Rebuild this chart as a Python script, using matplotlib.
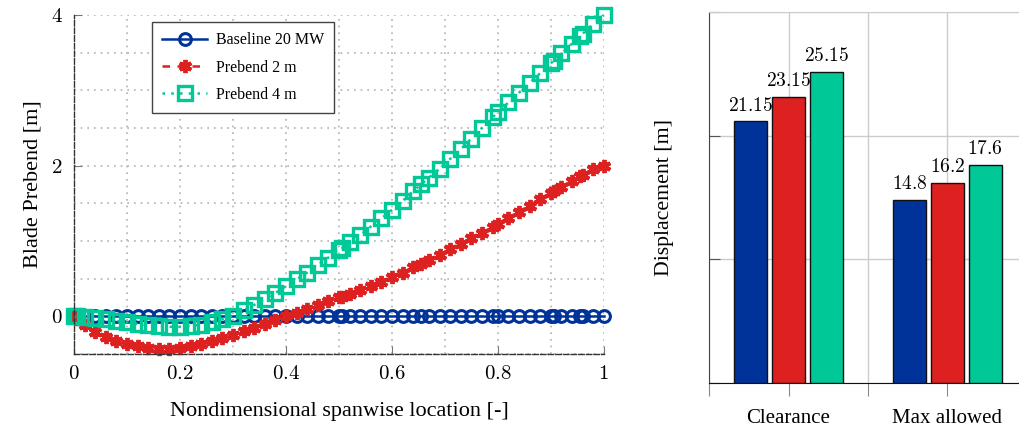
import matplotlib.pyplot as plt
from matplotlib.ticker import FuncFormatter, MultipleLocator

plt.rcParams["font.family"] = ["Liberation Serif", "DejaVu Serif"]
plt.rcParams["mathtext.fontset"] = "cm"

BLUE = "#003399"
RED = "#dd2020"
GREEN = "#00c896"

# blade stations (nondimensional span) and prebend per design [m]
span = [0.0, 0.005, 0.02, 0.04, 0.06, 0.08, 0.10, 0.12, 0.14, 0.16, 0.18,
        0.20, 0.22, 0.24, 0.26, 0.28, 0.30, 0.32, 0.34, 0.36, 0.38, 0.40,
        0.42, 0.44, 0.46, 0.48, 0.50, 0.505, 0.52, 0.54, 0.56, 0.58, 0.60,
        0.62, 0.64, 0.655, 0.67, 0.69, 0.71, 0.73, 0.75, 0.77, 0.79, 0.80,
        0.82, 0.84, 0.86, 0.88, 0.90, 0.905, 0.92, 0.94, 0.955, 0.96, 0.98,
        1.0]
prebend_base = [0.0] * len(span)
prebend_2m = [0.0, -0.03, -0.12, -0.21, -0.28, -0.33, -0.37, -0.40, -0.42,
              -0.43, -0.43, -0.42, -0.40, -0.37, -0.33, -0.29, -0.25, -0.20,
              -0.15, -0.10, -0.05, 0.00, 0.05, 0.10, 0.15, 0.20, 0.25, 0.26,
              0.30, 0.35, 0.40, 0.46, 0.52, 0.58, 0.65, 0.70, 0.75, 0.82,
              0.89, 0.96, 1.04, 1.11, 1.19, 1.23, 1.31, 1.39, 1.47, 1.56,
              1.64, 1.66, 1.72, 1.80, 1.86, 1.88, 1.95, 2.0]
prebend_4m = [0.0, 0.0, -0.01, -0.02, -0.04, -0.06, -0.08, -0.10, -0.12,
              -0.13, -0.14, -0.14, -0.13, -0.11, -0.08, -0.04, 0.01, 0.08,
              0.15, 0.23, 0.31, 0.40, 0.49, 0.58, 0.68, 0.78, 0.88, 0.90,
              0.98, 1.08, 1.19, 1.30, 1.41, 1.53, 1.66, 1.75, 1.84, 1.96,
              2.09, 2.22, 2.36, 2.50, 2.64, 2.71, 2.84, 2.97, 3.10, 3.23,
              3.36, 3.39, 3.49, 3.62, 3.72, 3.75, 3.88, 4.0]

# tip displacement bars
categories = ["Clearance", "Max allowed"]
disp_base = [21.15, 14.8]
disp_2m = [23.15, 16.2]
disp_4m = [25.15, 17.6]
bar_labels = [["21.15", "14.8"], ["23.15", "16.2"], ["25.15", "17.6"]]

fig = plt.figure(figsize=(10.19, 4.28), dpi=100)

# ---- prebend curves ----
ax = fig.add_axes([0.0726, 0.173, 0.520, 0.792])
ax.plot(span, prebend_base, color=BLUE, lw=1.8, ls="-", marker="o",
        ms=8.5, mfc="none", mec=BLUE, mew=2.2, clip_on=False,
        label="Baseline 20 MW")
ax.plot(span, prebend_2m, color=RED, lw=1.8, ls=(0, (3, 3)),
        marker=(6, 2, 0), ms=9.5, mec=RED, mew=2.8, clip_on=False,
        label="Prebend 2 m")
ax.plot(span, prebend_4m, color=GREEN, lw=1.8, ls=(0, (1, 2.5)),
        marker="s", ms=10.5, mfc="none", mec=GREEN, mew=2.4, clip_on=False,
        label="Prebend 4 m")

ax.set_xlim(0, 1)
ax.set_ylim(-0.5, 4)
ax.set_xticks([0, 0.2, 0.4, 0.6, 0.8, 1.0])
ax.set_yticks([0, 2, 4])
ax.xaxis.set_minor_locator(MultipleLocator(0.1))
ax.yaxis.set_minor_locator(MultipleLocator(0.5))
fmt = FuncFormatter(lambda v, pos: f"${v:g}$")
ax.xaxis.set_major_formatter(fmt)
ax.yaxis.set_major_formatter(fmt)
ax.tick_params(which="major", direction="in", length=6, color="#777777",
               labelsize=15, pad=8)
ax.tick_params(which="minor", length=0)
ax.grid(which="both", color="#b0b0b0", ls=(0, (1, 3)), lw=1.2)
ax.set_axisbelow(True)
for side in ["top", "right"]:
    ax.spines[side].set_visible(False)
for side in ["left", "bottom"]:
    ax.spines[side].set_linestyle((0, (4, 1.5)))
    ax.spines[side].set_color("#333333")
    ax.spines[side].set_linewidth(1.0)
ax.set_xlabel("Nondimensional spanwise location [-]", fontsize=16, labelpad=13)
ax.set_ylabel("Blade Prebend [m]", fontsize=16, labelpad=6)

leg = ax.legend(loc="upper left", bbox_to_anchor=(0.147, 0.979),
                borderaxespad=0, fontsize=11.5, handlelength=2.8,
                handletextpad=0.55, fancybox=False, framealpha=1,
                edgecolor="#444444", borderpad=0.65, labelspacing=0.7)
leg.get_frame().set_linewidth(1.0)

# ---- displacement bars ----
bx = fig.add_axes([0.6958, 0.105, 0.312, 0.867])
pos = [0, 1]
width = 0.207
step = 0.237
for k, (vals, color) in enumerate([(disp_base, BLUE), (disp_2m, RED),
                                   (disp_4m, GREEN)]):
    xs = [p + (k - 1) * step for p in pos]
    bx.bar(xs, vals, width=width, color=color, edgecolor="#111111",
           linewidth=1.0, zorder=3)
    for x, v, txt in zip(xs, vals, bar_labels[k]):
        bx.annotate(f"${txt}$", (x, v), xytext=(0, 5),
                    textcoords="offset points", ha="center", va="bottom",
                    fontsize=14, zorder=4)

bx.set_xlim(-0.5, 1.5)
bx.set_ylim(0, 30)
bx.set_xticks([-0.5, 0, 0.5, 1, 1.5])
bx.set_xticklabels(["", categories[0], "", categories[1], ""])
bx.set_yticks([0, 10, 20, 30])
bx.set_yticklabels([])
bx.tick_params(axis="x", direction="out", length=9, color="#888888",
               labelsize=15, pad=10)
bx.tick_params(axis="y", direction="in", length=8, color="#555555")
bx.grid(color="#cccccc", lw=1.0)
bx.set_axisbelow(True)
bx.spines["left"].set_color("#444444")
bx.spines["bottom"].set_color("#111111")
bx.spines["top"].set_color("#cccccc")
bx.spines["right"].set_color("#cccccc")
bx.set_ylabel("Displacement [m]", fontsize=15.7, labelpad=22)

fig.savefig("out.png", dpi=100)
